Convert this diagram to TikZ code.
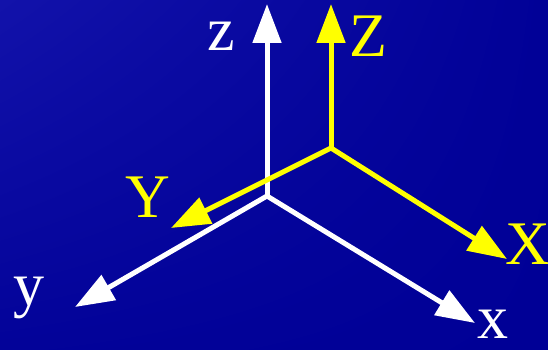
\documentclass[tikz,border=0pt]{standalone}
\usepackage{fontspec}
\setmainfont{Liberation Serif}
\usetikzlibrary{arrows.meta,shadings}
\definecolor{bgtop}{RGB}{18,18,170}
\definecolor{bgbot}{RGB}{0,0,150}
\definecolor{axisyellow}{RGB}{255,255,0}
\tikzset{
  oldaxis/.style={draw=white,line width=5pt,-{Triangle[length=39pt,width=28pt]}},
  newaxis/.style={draw=axisyellow,line width=5pt,-{Triangle[length=39pt,width=28pt]}},
  oldlabel/.style={text=white,font=\fontsize{62}{62}\selectfont,inner sep=0pt},
  newlabel/.style={text=axisyellow,font=\fontsize{62}{62}\selectfont,inner sep=0pt}
}

\begin{document}
\begin{tikzpicture}[x=1pt,y=-1pt]
  \shade[upper left=bgtop,upper right=bgbot!95!bgtop,lower left=bgbot!85!bgtop,lower right=bgbot]
    (0,0) rectangle (548,350);
  \useasboundingbox (0,0) rectangle (548,350);
  % old frame
  \coordinate (o) at (267,196);
  \coordinate (zt) at (267,4);
  \coordinate (yt) at (75,307);
  \coordinate (xt) at (475,323);
  \draw[oldaxis] (o) -- (zt);
  \draw[oldaxis] (o) -- (yt);
  \draw[oldaxis] (o) -- (xt);
  \node[oldlabel] (zl) at (221,36) {z};
  \node[oldlabel] (yl) at (29,298) {y};
  \node[oldlabel] (xl) at (493,324) {x};
  % new frame
  \coordinate (O) at (331,148);
  \coordinate (Zt) at (331,4);
  \coordinate (Yt) at (171,228);
  \coordinate (Xt) at (507,259);
  \draw[newaxis] (O) -- (Zt);
  \draw[newaxis] (O) -- (Yt);
  \draw[newaxis] (O) -- (Xt);
  \node[newlabel] (Zl) at (368,36) {Z};
  \node[newlabel] (Yl) at (148,197) {Y};
  \node[newlabel] (Xl) at (528,244) {X};
\end{tikzpicture}
\end{document}
